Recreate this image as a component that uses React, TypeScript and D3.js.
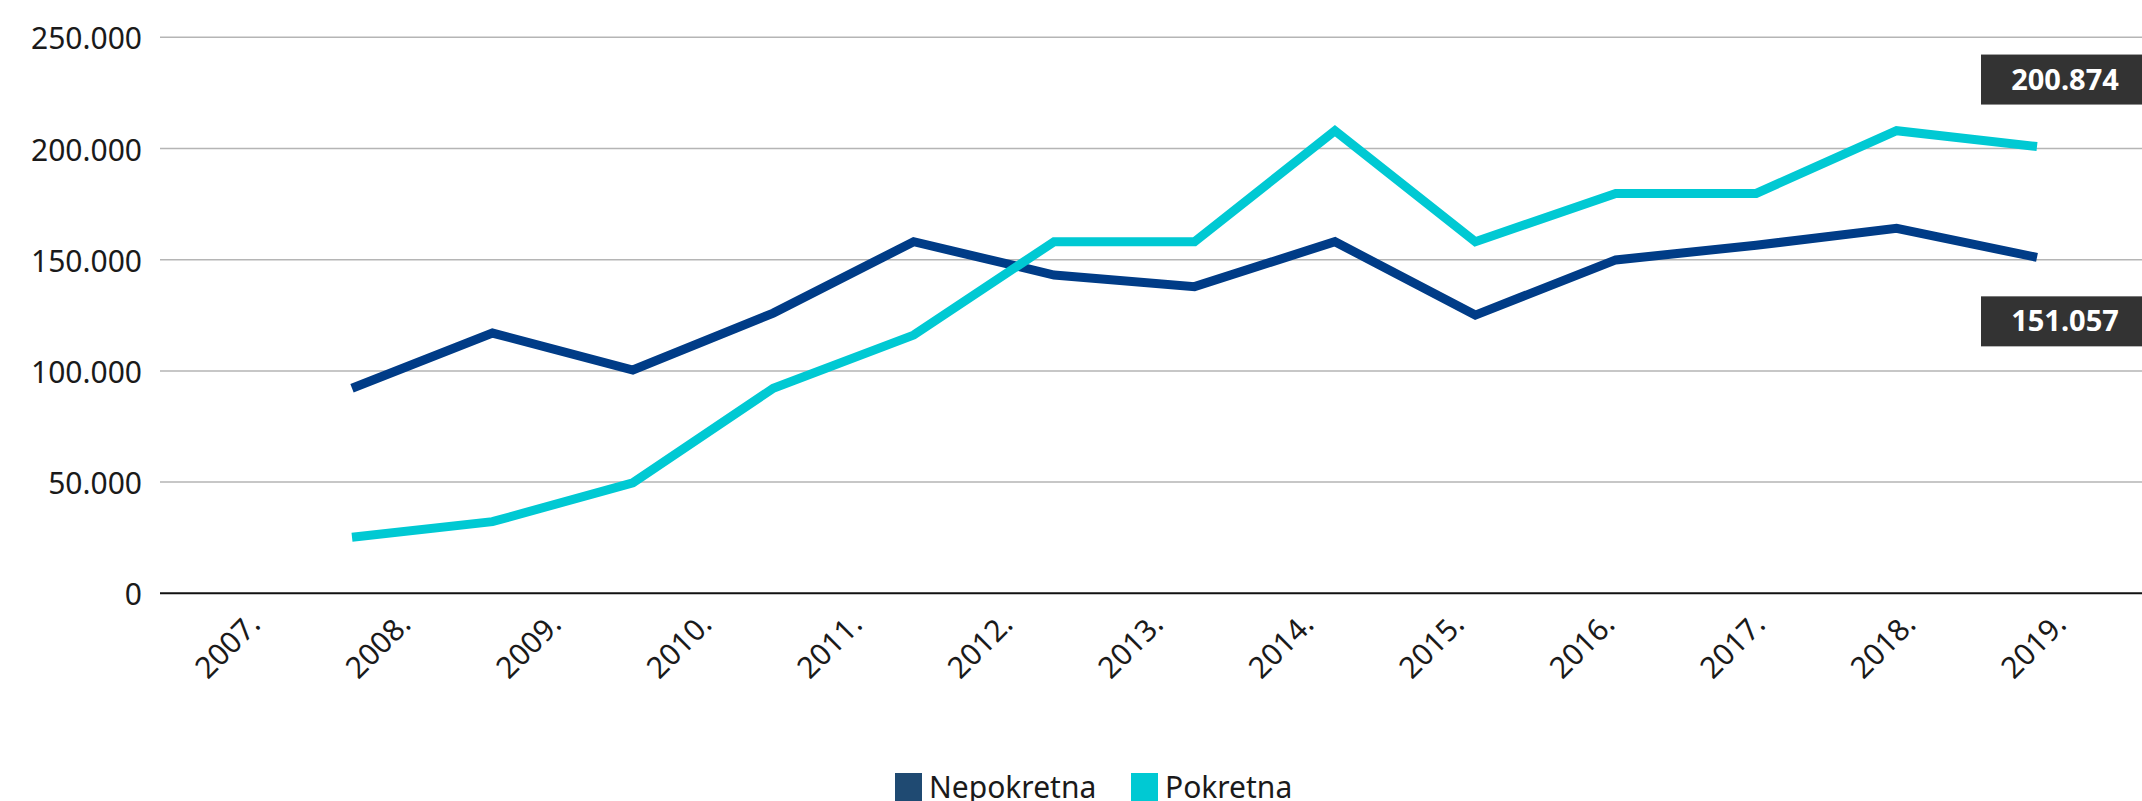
import * as React from 'react';
import * as d3 from 'd3';

const YEARS = ['2007.', '2008.', '2009.', '2010.', '2011.', '2012.', '2013.', '2014.', '2015.', '2016.', '2017.', '2018.', '2019.'];
const NEPOKRETNA = [92200, 117000, 100400, 126000, 158100, 143100, 137900, 158100, 125100, 149900, 156500, 164100, 151057];
const POKRETNA = [25200, 32200, 49700, 92200, 116100, 158100, 158100, 208000, 158100, 179800, 179800, 208000, 200874];
const Y_TICKS = [0, 50000, 100000, 150000, 200000, 250000];

const SERIES = [
  { key: 'Nepokretna', values: NEPOKRETNA, color: '#003c87', legend: '#1f4a72', labelSide: 'below' },
  { key: 'Pokretna', values: POKRETNA, color: '#00c9d3', legend: '#00c9d3', labelSide: 'above' },
];

const W = 2142;
const H = 801;
const FONT = '"Noto Sans", sans-serif';

const locale = d3.formatLocale({ decimal: ',', thousands: '.', grouping: [3], currency: ['', ''] });
const fmt = locale.format(',d');

export default function App() {
  const plot = { left: 160, right: W, top: 37.3, bottom: 593.3 };

  const y = d3.scaleLinear().domain([0, 250000]).range([plot.bottom, plot.top]);
  // lines and category labels sit on different spacings in the original
  const xLine = d3.scalePoint<string>().domain(YEARS).range([352, 2037]);
  const xLabel = d3.scalePoint<string>().domain(YEARS).range([262, 2068]);

  const line = d3
    .line<number>()
    .x((_, i) => xLine(YEARS[i]) as number)
    .y((d) => y(d));

  const last = YEARS[YEARS.length - 1];

  return (
    <div>
      <style>{`body{margin:0}`}</style>
      <svg width={W} height={H} style={{ display: 'block', fontFamily: FONT }}>
        <rect width={W} height={H} fill="#fff" />

        {/* grid */}
        {Y_TICKS.filter((t) => t > 0).map((t) => (
          <line key={t} x1={plot.left} x2={plot.right} y1={y(t)} y2={y(t)} stroke="#b5b5b5" strokeWidth={1.5} />
        ))}
        <line x1={plot.left} x2={plot.right} y1={y(0)} y2={y(0)} stroke="#111" strokeWidth={2} />

        {/* y labels */}
        {Y_TICKS.map((t) => (
          <text key={t} x={142} y={y(t) + 12} textAnchor="end" fontSize={30} fill="#1a1a1a">
            {fmt(t)}
          </text>
        ))}

        {/* x labels */}
        {YEARS.map((yr) => (
          <text
            key={yr}
            transform={`translate(${xLabel(yr)},${626}) rotate(-45)`}
            textAnchor="end"
            fontSize={30}
            fill="#1a1a1a"
          >
            {yr}
          </text>
        ))}

        {/* lines */}
        {SERIES.map((s) => (
          <path
            key={s.key}
            d={line(s.values) || ''}
            fill="none"
            stroke={s.color}
            strokeWidth={9}
            strokeLinejoin="miter"
            strokeLinecap="butt"
          />
        ))}

        {/* end value labels */}
        {SERIES.map((s) => {
          const v = s.values[s.values.length - 1];
          const cx = (xLine(last) as number) + 28;
          const cy = s.labelSide === 'above' ? y(v) - 67 : y(v) + 64;
          return (
            <g key={s.key}>
              <rect x={cx - 84} y={cy - 25} width={168} height={50} fill="#333333" />
              <text x={cx} y={cy + 10} textAnchor="middle" fontSize={29} fontWeight={700} fill="#fff">
                {fmt(v)}
              </text>
            </g>
          );
        })}

        {/* legend */}
        <g transform="translate(895,773)">
          <rect x={0} y={0} width={27} height={28} fill={SERIES[0].legend} />
          <text x={34} y={25} fontSize={30} fill="#1a1a1a">{SERIES[0].key}</text>
          <rect x={236} y={0} width={27} height={28} fill={SERIES[1].legend} />
          <text x={270} y={25} fontSize={30} fill="#1a1a1a">{SERIES[1].key}</text>
        </g>
      </svg>
    </div>
  );
}
